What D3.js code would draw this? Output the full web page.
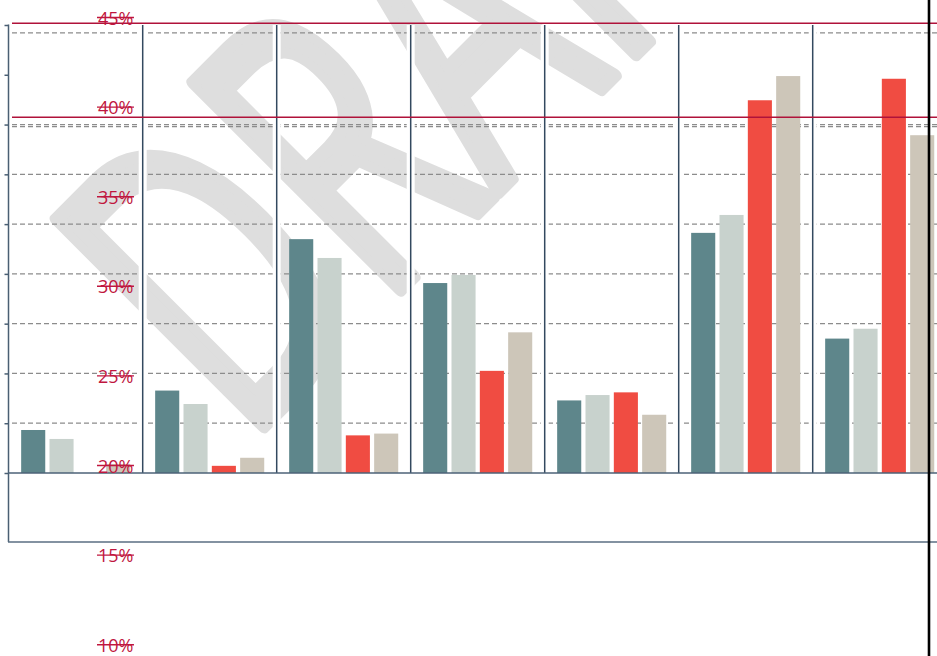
<!DOCTYPE html>
<html>
<head>
<meta charset="utf-8">
<script src="https://cdn.jsdelivr.net/npm/d3@7"></script>
<style>
  html, body { margin: 0; padding: 0; background: #ffffff; }
  svg { display: block; }
</style>
</head>
<body>
<svg id="chart" width="937" height="656"></svg>
<script>
// ---- data ----
const categories = ["Group 1", "Group 2", "Group 3", "Group 4", "Group 5", "Group 6", "Group 7"];
const seriesNames = ["Series A", "Series B", "Series C", "Series D"];
const seriesA = [22.4, 24.6, 33.05, 30.6, 24.05, 33.4, 27.5];
const seriesB = [21.9, 23.85, 32.0, 31.05, 24.35, 34.4, 28.05];
const seriesC = [20.0, 20.4, 22.1, 25.7, 24.5, 40.8, 42.0];
const seriesD = [20.5, 20.85, 22.2, 27.85, 23.25, 42.15, 38.85];
const redTickLabels = [45, 40, 35, 30, 25, 20, 15, 10];
const referenceLines = [45.1, 39.85];
const axisTicks = [0, 5, 10, 15, 20, 25, 30, 35, 40, 45];
const gridValues = [5, 10, 15, 20, 25, 30, 34.8, 35, 44.2];
const watermarkText = "DRAFT";

const colors = ["#5e868b", "#c8d2cd", "#f04c42", "#cdc6b9"];

const svg = d3.select("#chart");
const W = 937, H = 656;

// scales
const y = d3.scaleLinear().domain([10, 45]).range([652.2, 25]);
const yAxisScale = d3.scaleLinear().domain([0, 45]).range([473, 25]);
const x0 = d3.scaleBand().domain(categories).range([8.7, 8.7 + 134 * 7]).padding(0);
const x1 = d3.scaleBand().domain(seriesNames).range([0, x0.bandwidth()]).paddingInner(0.15).paddingOuter(0.44);
const baseValue = 20;

const rows = categories.map((c, i) => ({
  cat: c,
  vals: [seriesA[i], seriesB[i], seriesC[i], seriesD[i]]
}));

// watermark
const wm = svg.append("g").attr("transform", "translate(244,446) rotate(-45) scale(0.65,1)");
wm.append("text")
  .attr("x", 0).attr("y", 0)
  .attr("font-family", "Open Sans, sans-serif")
  .attr("font-size", 410)
  .attr("fill", "#dedede")
  .attr("stroke", "#dedede")
  .attr("stroke-width", 14)
  .attr("stroke-linejoin", "round")
  .text(watermarkText);

// gridlines
svg.append("g").selectAll("line").data(gridValues).join("line")
  .attr("x1", 12).attr("x2", W)
  .attr("y1", d => yAxisScale(d)).attr("y2", d => yAxisScale(d))
  .attr("stroke", "#8c8c8c").attr("stroke-width", 1.3)
  .attr("stroke-dasharray", "5,3");

// bars
const groups = svg.append("g").selectAll("g").data(rows).join("g")
  .attr("transform", d => `translate(${x0(d.cat)},0)`);
groups.selectAll("rect").data(d => d.vals.map((v, i) => ({ v, s: seriesNames[i], i }))).join("rect")
  .attr("x", d => x1(d.s))
  .attr("width", x1.bandwidth())
  .attr("y", d => Math.min(y(d.v), y(baseValue)))
  .attr("height", d => Math.max(0, y(baseValue) - y(d.v)))
  .attr("fill", d => colors[d.i]);

// separators
const sepX = categories.slice(1).map(c => x0(c));
svg.append("g").selectAll("line").data(sepX).join("line")
  .attr("x1", d => d).attr("x2", d => d)
  .attr("y1", 25).attr("y2", 472)
  .attr("stroke", "#ffffff").attr("stroke-width", 8);
svg.append("g").selectAll("line").data(sepX).join("line")
  .attr("x1", d => d).attr("x2", d => d)
  .attr("y1", 25).attr("y2", 473)
  .attr("stroke", "#33495f").attr("stroke-width", 1.5);

// left axis
const axis = d3.axisLeft(yAxisScale).tickValues(axisTicks).tickSize(4).tickFormat("");
const ag = svg.append("g").attr("transform", "translate(8.5,0)").call(axis);
ag.select(".domain").remove();
ag.selectAll(".tick line").attr("stroke", "#4a5f73").attr("stroke-width", 1.5);
svg.append("line").attr("x1", 8.5).attr("x2", 8.5).attr("y1", 24.5).attr("y2", 542)
  .attr("stroke", "#4a5f73").attr("stroke-width", 1.5);

// baseline + bottom border
svg.append("line").attr("x1", 8).attr("x2", W).attr("y1", y(baseValue)).attr("y2", y(baseValue))
  .attr("stroke", "#4d6277").attr("stroke-width", 1.6);
svg.append("line").attr("x1", 8).attr("x2", W).attr("y1", 542).attr("y2", 542)
  .attr("stroke", "#5a6e82").attr("stroke-width", 1.6);

// reference red lines
svg.append("g").selectAll("line").data(referenceLines).join("line")
  .attr("x1", 12).attr("x2", W)
  .attr("y1", d => y(d)).attr("y2", d => y(d))
  .attr("stroke", "#b0123a").attr("stroke-width", 1.5);

// red struck labels
const lab = svg.append("g").selectAll("g").data(redTickLabels).join("g");
lab.append("text")
  .attr("x", 98).attr("y", d => y(d) - 0.5)
  .attr("font-family", "Open Sans, sans-serif")
  .attr("font-size", 18)
  .attr("fill", "#c0163f")
  .text(d => d + "%");
lab.each(function () {
  const t = d3.select(this).select("text");
  const len = t.node().getComputedTextLength();
  const yy = +t.attr("y") - 7;
  d3.select(this).append("line")
    .attr("x1", 97).attr("x2", 98 + len + 0.5)
    .attr("y1", yy).attr("y2", yy)
    .attr("stroke", "#c0163f").attr("stroke-width", 1.4);
});

// black right edge line
svg.append("line").attr("x1", 929).attr("x2", 929).attr("y1", 0).attr("y2", H)
  .attr("stroke", "#000").attr("stroke-width", 2.6);
</script>
</body>
</html>
